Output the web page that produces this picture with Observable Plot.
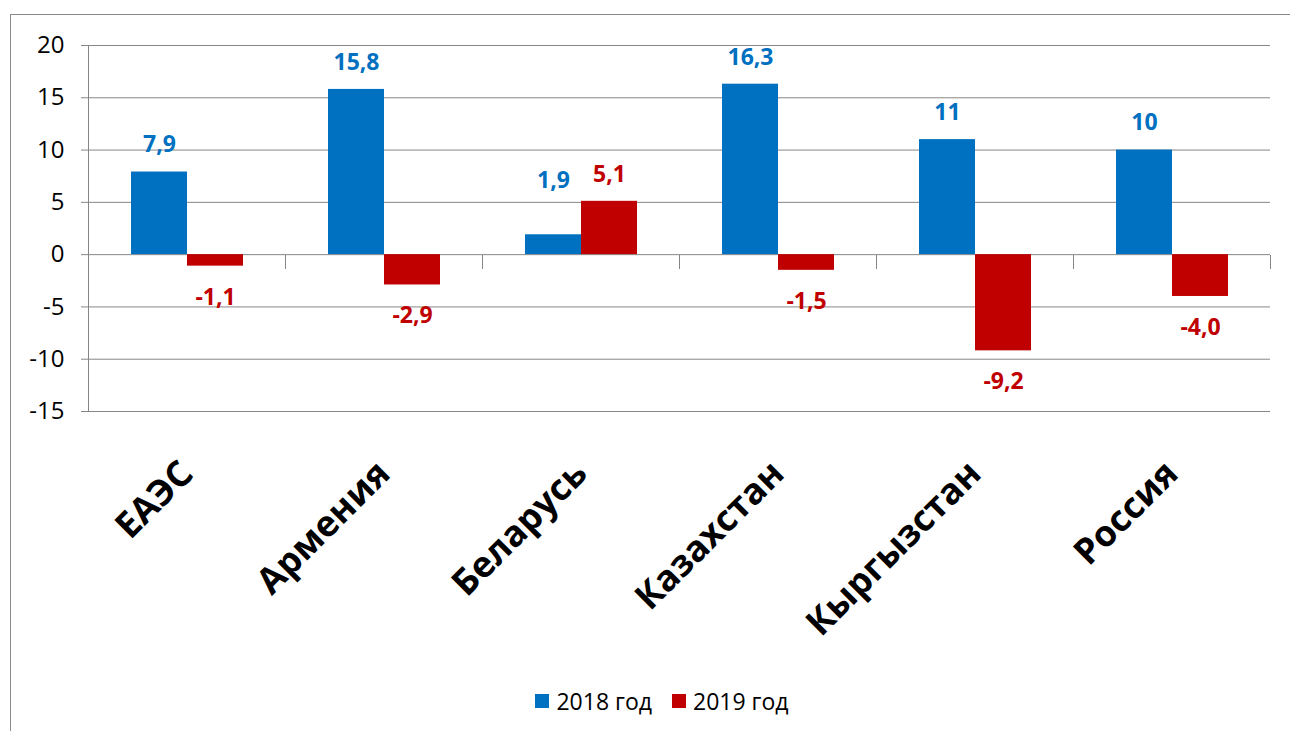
<!DOCTYPE html>
<html>
<head>
<meta charset="utf-8">
<script src="https://cdn.jsdelivr.net/npm/d3@7"></script>
<script src="https://cdn.jsdelivr.net/npm/@observablehq/plot@0.6"></script>
<style>
  html, body { margin: 0; padding: 0; background: #fff; width: 1290px; height: 731px; overflow: hidden; }
  #box { position: absolute; left: 10px; top: 14px; width: 1400px; height: 800px; border-left: 1.5px solid #8a8a8a; border-top: 1.5px solid #8a8a8a; }
  #chart { position: absolute; left: 0; top: 0; }
  #legend { position: absolute; left: 0; top: 683px; width: 1324px; text-align: center; font-family: "Open Sans", sans-serif; font-size: 23px; color: #000; }
  #legend span.item { display: inline-flex; align-items: center; margin: 0 10px; }
  #legend span.sw { display: inline-block; width: 14px; height: 14px; margin-right: 7px; }
</style>
</head>
<body>
<div id="box"></div>
<div id="chart"></div>
<div id="legend"></div>
<script>
const countries = ["ЕАЭС", "Армения", "Беларусь", "Казахстан", "Кыргызстан", "Россия"];
const years = ["2018 год", "2019 год"];
const colors = ["#0070C0", "#C00000"];
const values2018 = [7.9, 15.8, 1.9, 16.3, 11, 10];
const values2019 = [-1.1, -2.9, 5.1, -1.5, -9.2, -4.0];
const labels2018 = ["7,9", "15,8", "1,9", "16,3", "11", "10"];
const labels2019 = ["-1,1", "-2,9", "5,1", "-1,5", "-9,2", "-4,0"];
const yTicks = [-15, -10, -5, 0, 5, 10, 15, 20];

const data = [];
countries.forEach((c, i) => {
  data.push({country: c, year: years[0], value: values2018[i], label: labels2018[i]});
  data.push({country: c, year: years[1], value: values2019[i], label: labels2019[i]});
});

const gray = "#868686";
const isRaised = d => d.country === "Беларусь" && d.year === years[0];

const chart = Plot.plot({
  width: 1290,
  height: 680,
  marginLeft: 86,
  marginRight: 18,
  marginTop: 45,
  marginBottom: 269,
  style: {fontFamily: "'Open Sans', sans-serif", background: "transparent"},
  fx: {domain: countries, padding: 0, label: null},
  x: {domain: years, paddingInner: 0, paddingOuter: 0.75, axis: null},
  y: {domain: [-15, 20], label: null},
  color: {domain: years, range: colors},
  marks: [
    Plot.gridY(yTicks, {stroke: gray, strokeOpacity: 1}),
    Plot.frame({anchor: "left", facetAnchor: "left", stroke: gray, strokeOpacity: 1}),
    Plot.frame({anchor: "right", insetTop: 210, insetBottom: 143, stroke: gray, strokeOpacity: 1}),
    Plot.axisY(yTicks, {tickSize: 7, tickPadding: 17, fontSize: 24, stroke: gray, fill: "#000", tickFormat: d => String(d), label: null}),
    Plot.barY(data, {fx: "country", x: "year", y: "value", fill: "year"}),
    Plot.text(data.filter(d => d.value >= 0 && !isRaised(d)), {fx: "country", x: "year", y: "value", text: "label", fill: "year", dy: -27, fontSize: 23, fontWeight: "bold"}),
    Plot.text(data.filter(isRaised), {fx: "country", x: "year", y: "value", text: "label", fill: "year", dy: -54, fontSize: 23, fontWeight: "bold"}),
    Plot.text(data.filter(d => d.value < 0), {fx: "country", x: "year", y: "value", text: "label", fill: "year", dy: 31, fontSize: 23, fontWeight: "bold"}),
    Plot.axisFx({anchor: "bottom", tickRotate: -45, tickSize: 0, tickPadding: 56, fontSize: 36, fontWeight: "bold", fill: "#000", label: null})
  ]
});
document.getElementById("chart").appendChild(chart);

const legend = document.getElementById("legend");
years.forEach((y, i) => {
  const item = document.createElement("span");
  item.className = "item";
  const sw = document.createElement("span");
  sw.className = "sw";
  sw.style.background = colors[i];
  item.appendChild(sw);
  item.appendChild(document.createTextNode(y));
  legend.appendChild(item);
});
</script>
</body>
</html>
